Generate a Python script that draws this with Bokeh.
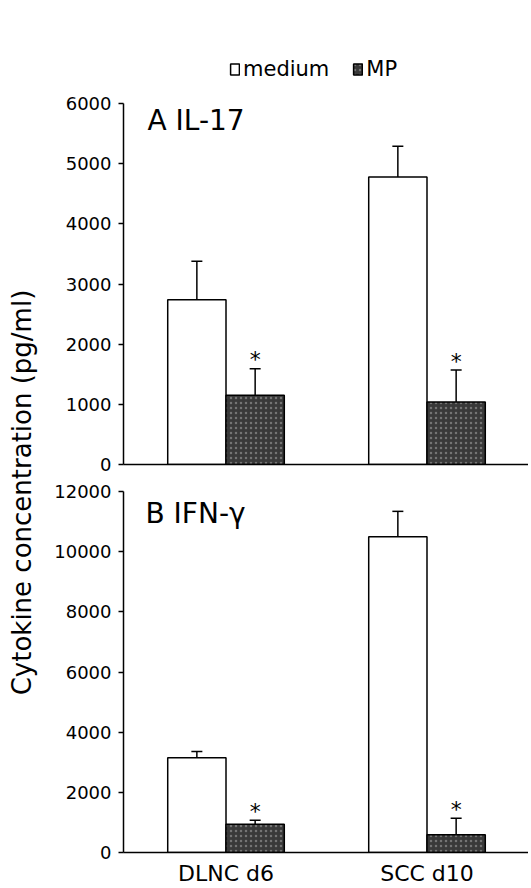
import numpy as np
from bokeh.plotting import figure
from bokeh.models import (ColumnDataSource, Range1d, FixedTicker, Whisker, TeeHead,
                          Legend, LegendItem, Label)
from bokeh.layouts import row, column
from bokeh.embed import file_html
from bokeh.resources import INLINE
from bokeh.core.properties import value

# ---------------- data ----------------
categories = ["DLNC d6", "SCC d10"]
series_names = ["medium", "MP"]

il17_medium = [2740, 4780]
il17_medium_err = [640, 510]
il17_mp = [1150, 1040]
il17_mp_err = [440, 530]

ifng_medium = [3150, 10500]
ifng_medium_err = [210, 840]
ifng_mp = [940, 590]
ifng_mp_err = [130, 550]

il17_ticks = [0, 1000, 2000, 3000, 4000, 5000, 6000]
ifng_ticks = [0, 2000, 4000, 6000, 8000, 10000, 12000]

panel_titles = ["A IL-17", "B IFN-\u03b3"]
y_label = "Cytokine concentration (pg/ml)"
significance = ["*", "*"]

FONT = "DejaVu Sans"
MP_COLOR = "#393939"


def make_panel(med, med_err, mp, mp_err, ticks, title, height, top_border,
               bottom_border, extra_top_px, axis_px, show_x, title_xy, with_legend):
    idx = list(range(len(categories)))
    y_end = ticks[-1] * (axis_px + extra_top_px) / axis_px
    p = figure(width=480, height=height, output_backend="svg", toolbar_location=None,
               x_range=Range1d(-0.51, 1.505), y_range=Range1d(ticks[0], y_end),
               min_border_left=75, min_border_right=0, min_border_top=top_border,
               min_border_bottom=bottom_border, outline_line_color=None)
    p.xgrid.visible = False
    p.ygrid.visible = False

    bw = 0.29
    src_med = ColumnDataSource(dict(
        x=[i - bw / 2 for i in idx], top=med,
        upper=[v + e for v, e in zip(med, med_err)]))
    src_mp = ColumnDataSource(dict(
        x=[i + bw / 2 for i in idx], top=mp,
        upper=[v + e for v, e in zip(mp, mp_err)], star=significance))

    r_med = p.vbar(x="x", top="top", width=bw, bottom=0, source=src_med,
                   fill_color="white", line_color="black", line_width=1.5)
    r_mp = p.vbar(x="x", top="top", width=bw, bottom=0, source=src_mp,
                  fill_color=MP_COLOR, line_color="black", line_width=1.5,
                  hatch_pattern="dot", hatch_color="#7a7a7a", hatch_scale=5,
                  hatch_weight=1, hatch_alpha=0.9)

    for src in (src_med, src_mp):
        w = Whisker(base="x", lower="top", upper="upper", source=src,
                    dimension="height", line_color="black", line_width=1.5,
                    upper_head=TeeHead(size=11, line_width=1.5, line_color="black"),
                    lower_head=None)
        p.add_layout(w)

    p.text(x="x", y="upper", text="star", source=src_mp, text_align="center",
           text_baseline="alphabetic", y_offset=-9, text_font=value(FONT),
           text_font_size="22px", text_color="black")

    # axes
    ya = p.yaxis[0]
    ya.ticker = FixedTicker(ticks=ticks)
    ya.bounds = (ticks[0], ticks[-1])
    ya.axis_line_width = 1.5
    ya.major_tick_in = 0
    ya.major_tick_out = 5
    ya.major_tick_line_width = 1.5
    ya.minor_tick_line_color = None
    ya.major_label_standoff = 7
    ya.major_label_text_font = FONT
    ya.major_label_text_font_size = "18px"
    ya.major_label_text_color = "black"

    xa = p.xaxis[0]
    xa.axis_line_width = 1.5
    xa.major_tick_in = 0
    xa.major_tick_out = 0
    xa.minor_tick_line_color = None
    if show_x:
        xa.ticker = FixedTicker(ticks=idx)
        xa.major_label_overrides = {i: c for i, c in zip(idx, categories)}
        xa.major_label_standoff = 8
        xa.major_label_text_font = FONT
        xa.major_label_text_font_size = "22px"
        xa.major_label_text_color = "black"
    else:
        xa.ticker = FixedTicker(ticks=[])

    p.add_layout(Label(x=title_xy[0], y=title_xy[1], x_units="screen", y_units="screen",
                       text=title, text_font=FONT, text_font_size="28px",
                       text_baseline="alphabetic", text_align="left", text_color="black"))

    if with_legend:
        legend = Legend(items=[LegendItem(label=series_names[0], renderers=[r_med]),
                               LegendItem(label=series_names[1], renderers=[r_mp])],
                        location=(106, 383), orientation="horizontal",
                        glyph_width=11, glyph_height=14, label_standoff=3, spacing=23,
                        padding=0, margin=0, border_line_color=None,
                        background_fill_alpha=0, label_text_font=FONT,
                        label_text_font_size="21px", label_text_color="black")
        p.add_layout(legend)
    return p


# panel A: figure 0..478, frame 40..464 (axis part 103..464)
pA = make_panel(il17_medium, il17_medium_err, il17_mp, il17_mp_err, il17_ticks,
                panel_titles[0], 478, 40, 14, 63, 361, False, (24, 344), True)
# panel B: figure 478..888, frame 491..853
pB = make_panel(ifng_medium, ifng_medium_err, ifng_mp, ifng_mp_err, ifng_ticks,
                panel_titles[1], 410, 13, 35, 0, 362, True, (22, 339), False)

lab = figure(width=48, height=888, output_backend="svg", toolbar_location=None,
             x_axis_type=None, y_axis_type=None, min_border=0,
             outline_line_color=None, x_range=Range1d(0, 1), y_range=Range1d(0, 1))
lab.grid.visible = False
lab.add_layout(Label(x=21, y=396, x_units="screen", y_units="screen", angle=np.pi / 2,
                     text=y_label, text_font=FONT, text_font_size="26px",
                     text_align="center", text_baseline="alphabetic", text_color="black"))

layout = row(lab, column(pA, pB))

with open("out.html", "w") as f:
    f.write(file_html(layout, INLINE))
